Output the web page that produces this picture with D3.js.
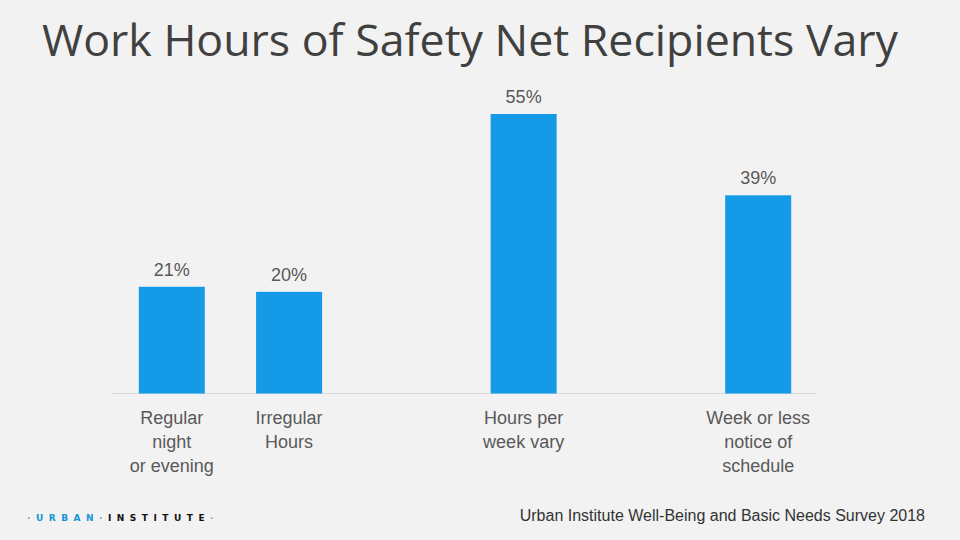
<!DOCTYPE html>
<html lang="en">
<head>
  <meta charset="UTF-8">
  <title>Work Hours of Safety Net Recipients Vary</title>
  <style>
    html, body { margin: 0; padding: 0; background: #f2f2f2; }
    svg { display: block; }
    .title { font-family: "Open Sans", "Noto Sans", sans-serif; font-size: 43px; fill: #404040; }
    .value, .cat { font-family: "Liberation Sans", Arial, sans-serif; font-size: 18px; fill: #595959; }
    .source { font-family: "Liberation Sans", Arial, sans-serif; font-size: 16px; fill: #333; }
    .logo { font-family: "DejaVu Sans", sans-serif; font-size: 9px; font-weight: bold; letter-spacing: 5.5px; }
  </style>
</head>
<body>
  <script src="https://cdn.jsdelivr.net/npm/d3@7"></script>
  <script>
    // chart data (blank categories are empty slots in the original layout)
    const categories = ['Regular night or evening', 'Irregular Hours', 'gap1', 'Hours per week vary', 'gap2', 'Week or less notice of schedule'];
    const labelLines = [['Regular', 'night', 'or evening'], ['Irregular', 'Hours'], [], ['Hours per', 'week vary'], [], ['Week or less', 'notice of', 'schedule']];
    const values = [21, 20, null, 55, null, 39];

    const WIDTH = 960;
    const HEIGHT = 540;
    const baseline = 393.5;

    const svg = d3.select('body').append('svg')
      .attr('width', WIDTH)
      .attr('height', HEIGHT);

    svg.append('rect').attr('width', WIDTH).attr('height', HEIGHT).attr('fill', '#f2f2f2');

    // title
    svg.append('text')
      .attr('class', 'title')
      .attr('x', 42)
      .attr('y', 56)
      .attr('textLength', 856)
      .attr('lengthAdjust', 'spacingAndGlyphs')
      .text('Work Hours of Safety Net Recipients Vary');

    // scales
    const x = d3.scaleBand()
      .domain(categories)
      .range([113, 817])
      .paddingInner(0.437)
      .paddingOuter(0.22);
    const y = d3.scaleLinear().domain([0, 55]).range([baseline, 114]);

    const chartData = categories.map((c, i) => ({cat: c, value: values[i], lines: labelLines[i]}));

    // baseline
    svg.append('line')
      .attr('x1', 112).attr('x2', 817)
      .attr('y1', baseline).attr('y2', baseline)
      .attr('stroke', '#d9d9d9')
      .attr('stroke-width', 1);

    // bars
    svg.selectAll('rect.bar')
      .data(chartData.filter(d => d.value !== null))
      .enter()
      .append('rect')
      .attr('class', 'bar')
      .attr('x', d => x(d.cat))
      .attr('width', x.bandwidth())
      .attr('y', d => y(d.value))
      .attr('height', d => baseline - y(d.value))
      .attr('fill', '#159ae8');

    // value labels
    svg.selectAll('text.value')
      .data(chartData.filter(d => d.value !== null))
      .enter()
      .append('text')
      .attr('class', 'value')
      .attr('text-anchor', 'middle')
      .attr('x', d => x(d.cat) + x.bandwidth() / 2)
      .attr('y', d => y(d.value) - 11)
      .text(d => d.value + '%');

    // category labels
    const cats = svg.selectAll('text.cat')
      .data(chartData.filter(d => d.lines.length))
      .enter()
      .append('text')
      .attr('class', 'cat')
      .attr('text-anchor', 'middle')
      .attr('x', d => x(d.cat) + x.bandwidth() / 2)
      .attr('y', 424);
    cats.selectAll('tspan')
      .data(d => d.lines.map(l => ({l, cx: x(d.cat) + x.bandwidth() / 2})))
      .enter()
      .append('tspan')
      .attr('x', d => d.cx)
      .attr('dy', (d, i) => i === 0 ? 0 : 24)
      .text(d => d.l);

    // source
    svg.append('text')
      .attr('class', 'source')
      .attr('x', 925)
      .attr('y', 521)
      .attr('text-anchor', 'end')
      .text('Urban Institute Well-Being and Basic Needs Survey 2018');

    // logo
    const logo = svg.append('text')
      .attr('class', 'logo')
      .attr('x', 27)
      .attr('y', 521);
    logo.append('tspan').attr('fill', '#9a9a9a').text('·');
    logo.append('tspan').attr('fill', '#1696d2').text('URBAN');
    logo.append('tspan').attr('fill', '#9a9a9a').text('·');
    logo.append('tspan').attr('fill', '#111').text('INSTITUTE');
    logo.append('tspan').attr('fill', '#9a9a9a').text('·');
  </script>
</body>
</html>
